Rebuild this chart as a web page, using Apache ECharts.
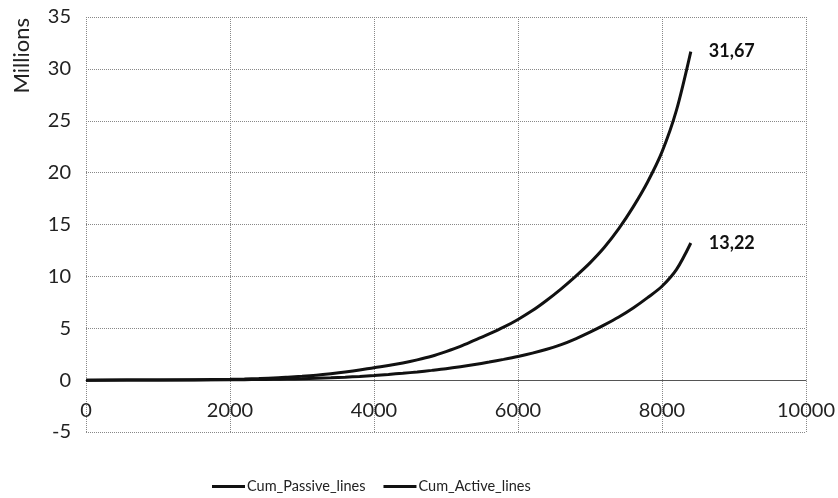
<!DOCTYPE html>
<html>
<head>
<meta charset="utf-8">
<script src="https://cdn.jsdelivr.net/npm/echarts@6/dist/echarts.min.js"></script>
<style>
  html, body { margin: 0; padding: 0; background: #fff; }
  #chart { width: 838px; height: 498px; }
</style>
</head>
<body>
<div id="chart"></div>
<script>
// Cumulative line counts (millions) against step number
const seriesNames = ['Cum_Passive_lines', 'Cum_Active_lines'];
const steps = [0, 1000, 2000, 2200, 2400, 2600, 2800, 3000, 3200, 3400, 3600, 3800, 4000, 4200, 4400, 4600, 4800, 5000, 5200, 5400, 5600, 5800, 6000, 6200, 6400, 6600, 6800, 7000, 7200, 7400, 7600, 7800, 8000, 8200, 8400];
const passiveValues = [0, 0.01, 0.08, 0.11, 0.15, 0.2, 0.28, 0.37, 0.48, 0.62, 0.78, 0.97, 1.2, 1.4, 1.65, 1.95, 2.3, 2.75, 3.25, 3.85, 4.45, 5.1, 5.85, 6.7, 7.7, 8.8, 10.0, 11.3, 12.8, 14.6, 16.7, 19.1, 22.0, 26.0, 31.67];
const activeValues = [0, 0.005, 0.03, 0.04, 0.06, 0.08, 0.1, 0.13, 0.17, 0.22, 0.28, 0.36, 0.45, 0.55, 0.66, 0.79, 0.94, 1.1, 1.29, 1.5, 1.74, 2.0, 2.28, 2.6, 2.97, 3.42, 3.98, 4.62, 5.32, 6.08, 6.95, 7.95, 9.05, 10.65, 13.22];
const xTicks = { min: 0, max: 10000, interval: 2000 };
const yTicks = { min: -5, max: 35, interval: 5 };

const font = 'Lato, "Open Sans", sans-serif';
const lineColor = '#111';

// grid geometry; the x axis sits on the zero line, one tick step above the bottom edge
const gridTop = 17, gridBottom = 66, chartHeight = 498;
const plotHeight = chartHeight - gridTop - gridBottom;
const zeroOffset = plotHeight * (0 - yTicks.min) / (yTicks.max - yTicks.min);

function pairs(xs, ys) {
  return xs.map((x, i) => [x, ys[i]]);
}

function decimalComma(v) {
  return v.toFixed(2).replace('.', ',');
}

function curve(name, values) {
  return {
    name: name,
    type: 'line',
    data: pairs(steps, values),
    smooth: 0.3,
    showSymbol: false,
    lineStyle: { color: lineColor, width: 3 },
    itemStyle: { color: lineColor },
    endLabel: {
      show: true,
      distance: 18,
      formatter: p => decimalComma(p.value[1]),
      fontFamily: font,
      fontWeight: 'bold',
      fontSize: 18,
      color: '#111'
    },
    emphasis: { disabled: true }
  };
}

const chart = echarts.init(document.getElementById('chart'), null, { renderer: 'canvas' });
chart.setOption({
  animation: false,
  backgroundColor: '#fff',
  grid: { left: 86, right: 29, top: gridTop, bottom: gridBottom, containLabel: false },
  xAxis: {
    type: 'value',
    min: xTicks.min, max: xTicks.max, interval: xTicks.interval,
    position: 'bottom',
    offset: -zeroOffset,
    axisLine: { show: true, onZero: false, lineStyle: { color: '#555', width: 1 } },
    axisTick: { show: false },
    axisLabel: { margin: 20, fontFamily: font, fontSize: 20, color: '#222', formatter: v => String(v) },
    splitLine: { show: true, lineStyle: { color: '#888', type: 'dotted', width: 1 } }
  },
  yAxis: {
    type: 'value',
    min: yTicks.min, max: yTicks.max, interval: yTicks.interval,
    axisLine: { show: false },
    axisTick: { show: false },
    axisLabel: { margin: 15, fontFamily: font, fontSize: 20, color: '#222' },
    splitLine: { show: true, lineStyle: { color: '#888', type: 'dotted', width: 1 } }
  },
  legend: {
    data: seriesNames,
    left: 207,
    top: 474,
    icon: 'rect',
    itemWidth: 33,
    itemHeight: 3,
    itemGap: 18,
    textStyle: { fontFamily: font, fontSize: 14.5, color: '#222', padding: [0, 0, 0, -3] }
  },
  graphic: [{
    type: 'text',
    left: 11,
    top: 18,
    rotation: Math.PI / 2,
    style: { text: 'Millions', font: '22px ' + font, fill: '#222' }
  }],
  series: [curve(seriesNames[0], passiveValues), curve(seriesNames[1], activeValues)]
});
</script>
</body>
</html>
